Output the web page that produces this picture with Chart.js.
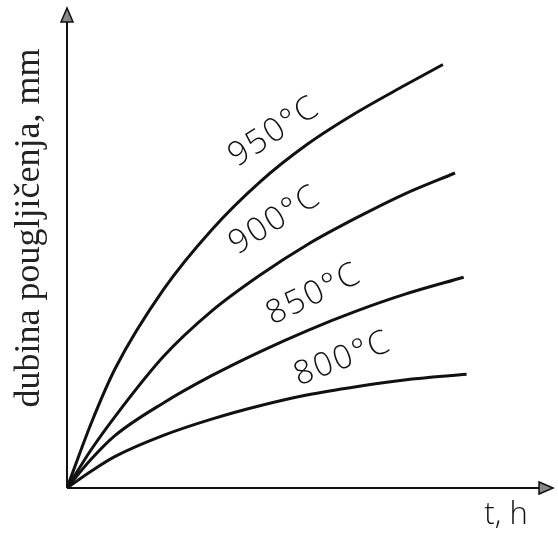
<!DOCTYPE html>
<html>
<head>
<meta charset="utf-8">
<script src="https://cdn.jsdelivr.net/npm/chart.js@4.4.1/dist/chart.umd.min.js"></script>
<style>
  html, body { margin: 0; padding: 0; background: #fff; }
  #wrap { width: 558px; height: 539px; }
</style>
</head>
<body>
<div id="wrap"><canvas id="chart-dubina" width="558" height="539"></canvas></div>
<script>
// vrijeme t (h) i dubina pougljicenja (mm), procijenjeno sa slike
const t950 = [0, 0.5, 1, 2, 3, 4, 5, 6, 7, 7.8];
const d950 = [0, 1.35, 2.5, 4.15, 5.4, 6.4, 7.2, 7.85, 8.42, 8.86];

const t900 = [0, 0.5, 1, 2, 3, 4, 5, 6, 7, 8.05];
const d900 = [0, 0.8, 1.5, 2.75, 3.7, 4.45, 5.1, 5.65, 6.15, 6.59];

const t850 = [0, 0.5, 1, 2, 3, 4, 5, 6, 7, 8.23];
const d850 = [0, 0.6, 1.1, 1.78, 2.35, 2.85, 3.3, 3.7, 4.05, 4.41];

const t800 = [0, 0.5, 1, 2, 3, 4, 5, 6, 7, 8.29];
const d800 = [0, 0.35, 0.66, 1.1, 1.44, 1.72, 1.95, 2.12, 2.26, 2.38];

const SERIJE   = ['950°C', '900°C', '850°C', '800°C'];
// polozaj natpisa uz krivulju (t, dubina) i nagib u stupnjevima
const natpisT  = [4.3, 4.32, 5.12, 5.72];
const natpisD  = [7.45, 5.6, 4.05, 2.7];
const natpisKut = [-33, -32, -26, -21];

const X_MAX = 10, Y_MAX = 10;

function tocke(ts, ds) {
  return ts.map((t, i) => ({ x: t, y: ds[i] }));
}

function serija(ts, ds) {
  return {
    data: tocke(ts, ds),
    borderColor: '#111',
    borderWidth: 3,
    pointRadius: 0,
    showLine: true,
    fill: false,
    cubicInterpolationMode: 'monotone',
  };
}

// osi sa strelicama i natpisi
const osiPlugin = {
  id: 'osi',
  afterDraw(chart) {
    const { ctx, scales } = chart;
    const x0 = scales.x.getPixelForValue(0);
    const y0 = scales.y.getPixelForValue(0);
    const xEnd = scales.x.getPixelForValue(X_MAX) + 4;
    const yEnd = scales.y.getPixelForValue(Y_MAX) - 2;

    ctx.save();
    ctx.strokeStyle = '#111';
    ctx.lineWidth = 2;
    ctx.beginPath();
    ctx.moveTo(x0, y0);
    ctx.lineTo(x0, yEnd + 12);
    ctx.moveTo(x0, y0);
    ctx.lineTo(xEnd - 12, y0);
    ctx.stroke();

    // strelice
    ctx.fillStyle = '#888';
    ctx.lineWidth = 1.5;
    ctx.beginPath();
    ctx.moveTo(x0, yEnd);
    ctx.lineTo(x0 - 6, yEnd + 14);
    ctx.lineTo(x0 + 6, yEnd + 14);
    ctx.closePath();
    ctx.fill(); ctx.stroke();
    ctx.beginPath();
    ctx.moveTo(xEnd, y0);
    ctx.lineTo(xEnd - 14, y0 - 6);
    ctx.lineTo(xEnd - 14, y0 + 6);
    ctx.closePath();
    ctx.fill(); ctx.stroke();

    // natpisi krivulja
    ctx.fillStyle = '#111';
    ctx.font = '300 33px "Open Sans", sans-serif';
    ctx.letterSpacing = '2px';
    ctx.textAlign = 'center';
    ctx.textBaseline = 'middle';
    SERIJE.forEach((s, i) => {
      const px = scales.x.getPixelForValue(natpisT[i]);
      const py = scales.y.getPixelForValue(natpisD[i]);
      ctx.save();
      ctx.translate(px, py);
      ctx.rotate(natpisKut[i] * Math.PI / 180);
      ctx.fillText(s, 0, 0);
      ctx.restore();
    });
    ctx.letterSpacing = '0px';

    // naziv osi y
    ctx.save();
    ctx.font = '36px "Liberation Serif", serif';
    ctx.fillStyle = '#222';
    ctx.translate(30, 228);
    ctx.rotate(-Math.PI / 2);
    ctx.fillText('dubina pougljičenja, mm', 0, 0);
    ctx.restore();

    // naziv osi x
    ctx.font = '300 31px "Open Sans", sans-serif';
    ctx.fillText('t, h', 506, 515);
    ctx.restore();
  }
};

new Chart(document.getElementById('chart-dubina'), {
  type: 'scatter',
  data: {
    datasets: [
      serija(t950, d950),
      serija(t900, d900),
      serija(t850, d850),
      serija(t800, d800),
    ]
  },
  options: {
    responsive: false,
    animation: false,
    layout: { padding: { left: 67, right: 9, top: 10, bottom: 51 } },
    plugins: { legend: { display: false }, tooltip: { enabled: false } },
    scales: {
      x: { type: 'linear', min: 0, max: X_MAX, display: false },
      y: { type: 'linear', min: 0, max: Y_MAX, display: false }
    }
  },
  plugins: [osiPlugin]
});
</script>
</body>
</html>
